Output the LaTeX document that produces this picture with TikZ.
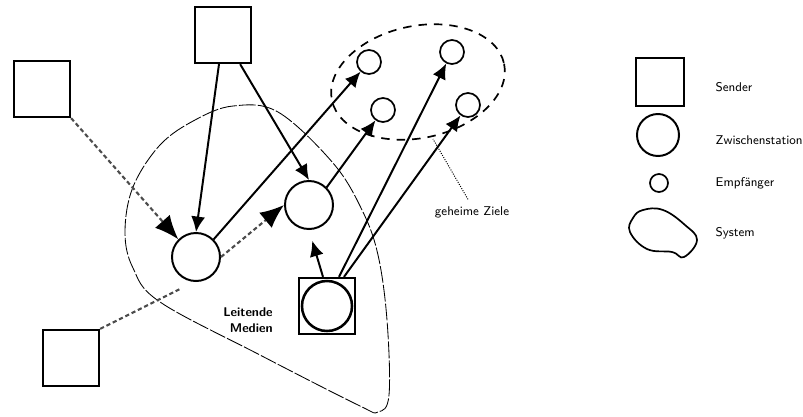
\documentclass[tikz,border=0pt]{standalone}
\usepackage{tikz}
\usetikzlibrary{arrows.meta,positioning,shapes.geometric}

\tikzset{
  src/.style={draw, line width=1.6pt, minimum size=1.4cm, inner sep=0pt},
  mid/.style={draw, circle, line width=1.4pt, minimum size=1.2cm, inner sep=0pt},
  tgt/.style={draw, circle, line width=1.2pt, minimum size=0.6cm, inner sep=0pt},
  link/.style={line width=1.4pt, -{Latex[length=11pt,width=10pt]}},
  weak/.style={line width=1.5pt, draw=black!70, densely dashed},
  bigtip/.style={-{Latex[length=17pt,width=14pt,fill=black,color=black]}},
  lbl/.style={font=\sffamily\small, anchor=west, inner sep=1pt},
}

\begin{document}
\begin{tikzpicture}[x=0.025cm,y=-0.025cm]
\useasboundingbox (0,0) rectangle (803,416);

% the system (outline)
\draw [line width=0.6pt, dash pattern=on 12pt off 1.5pt] plot [smooth cycle, tension=0.6] coordinates
  {(233,106) (278,112) (333,163) (362,210) (378,255) (387,320) (389,395) (378,412)
   (358,405) (260,355) (160,302) (133,268) (125,232) (133,187) (160,145) (195,120)};

% target area
\draw [line width=1.2pt, dash pattern=on 6pt off 5pt, rotate around={12:(418,82)}]
  (418,82) ellipse (88 and 56);
\coordinate (zone) at (433,139);

% sources
\node[src] (s1) at (42,89) {};
\node[src] (s2) at (223,35) {};
\node[src] (s3) at (71,358) {};
\node[src] (s4) at (327,306) {};
\node[mid, line width=1.8pt, minimum size=1.25cm] (c3) at (s4) {};

% media
\node[mid] (c1) at (196,257) {};
\node[mid] (c2) at (309,205) {};

% targets
\node[tgt] (t1) at (369,62) {};
\node[tgt] (t2) at (383,110) {};
\node[tgt] (t3) at (452,52) {};
\node[tgt] (t4) at (468,105) {};

% links
\draw [weak] (s3.north east) -- (180,289);
\draw [weak, bigtip] (s1.south east) -- (c1.north west);
\draw [link] (s2.south) ++(-4,0) -- (c1.north);
\draw [link] (s2.south east) ++(-12,0) -- (c2.north);
\draw [weak, bigtip] (c1.east) -- (c2.west);
\draw [link] (c1.north east) -- (t1);
\draw [link] (c2.north east) -- (t2);
\draw [link, shorten >=8pt] (s4.north) ++(-4,0) -- (c2.south);
\draw [link] (s4.north) ++(12,0) -- (t3);
\draw [link] (s4.north) ++(17,0) -- (t4);

% labels
\node[font=\sffamily\bfseries\small, align=right] (media) at (248,320) {Leitende\\Medien};
\node[font=\sffamily\small] (zonelbl) at (472,212) {geheime Ziele};
\draw [densely dotted, line width=0.7pt] (zonelbl.north) ++(-4,-2) -- (zone);

% legend
\node[src, minimum size=1.2cm] (lsrc) at (660,82) {};
\node[mid, minimum size=1.05cm] (lmid) at (658,135) {};
\node[tgt, minimum size=0.45cm] (ltgt) at (659,183) {};
\draw [line width=1.2pt] plot [smooth cycle, tension=0.7] coordinates
  {(643,210) (663,210) (685,225) (697,240) (684,257) (672,252) (647,249) (630,232) (633,218)};
\node[lbl] (lsrctxt) at (714,87) {Sender};
\node[lbl] (lmidtxt) at (714,140) {Zwischenstation};
\node[lbl] (ltgttxt) at (714,183) {Empfänger};
\node[lbl] (lsystxt) at (714,233) {System};
\end{tikzpicture}
\end{document}
